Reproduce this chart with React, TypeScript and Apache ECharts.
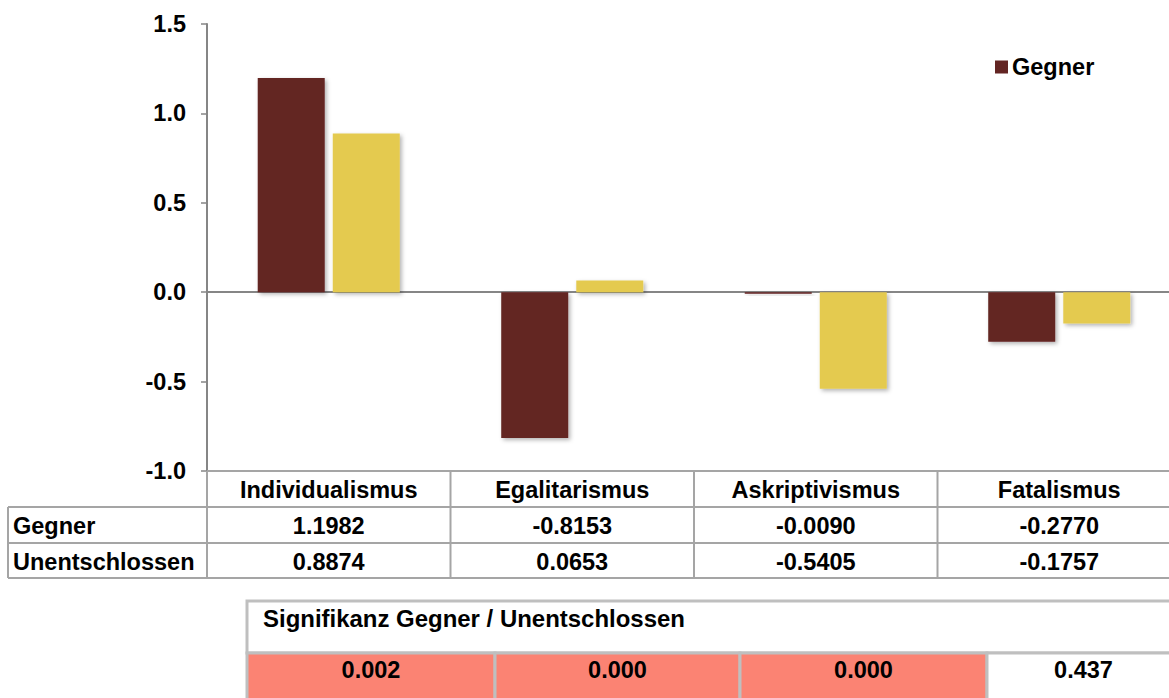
import React, { useEffect, useRef } from "react";
import * as echarts from "echarts";

const categories = ["Individualismus", "Egalitarismus", "Askriptivismus", "Fatalismus"];
const seriesNames = ["Gegner", "Unentschlossen"];
const gegner = [1.1982, -0.8153, -0.009, -0.277];
const unentschlossen = [0.8874, 0.0653, -0.5405, -0.1757];
const significanceTitle = "Signifikanz Gegner / Unentschlossen";
const significance = ["0.002", "0.000", "0.000", "0.437"];
const significant = [true, true, true, false];
const yTicks = { min: -1, max: 1.5, interval: 0.5 };

const COLORS = ["#632523", "#E4CA50"];
const FONT = "'Liberation Sans', Arial, sans-serif";
const FS = 23.5;

export default function App() {
  const ref = useRef<HTMLDivElement>(null);

  useEffect(() => {
    if (!ref.current) return;
    const chart = echarts.init(ref.current, undefined, { renderer: "svg" });

    const L = 207;
    const GW = 974;
    const CW = GW / categories.length;
    const rows = [471, 507, 543, 578];
    const leftX = 8;
    const rightX = 1200;
    const gridColor = "#A5A5A5";

    const g: any[] = [];
    const hline = (x1: number, x2: number, y: number, color = gridColor, w = 2) =>
      g.push({ type: "line", shape: { x1, y1: y, x2, y2: y }, style: { stroke: color, lineWidth: w }, z: 10 });
    const vline = (x: number, y1: number, y2: number, color = gridColor, w = 2) =>
      g.push({ type: "line", shape: { x1: x, y1, x2: x, y2 }, style: { stroke: color, lineWidth: w }, z: 10 });
    const txt = (text: string, x: number, y: number, align = "center", extra: any = {}) =>
      g.push({
        type: "text",
        x,
        y,
        ...extra,
        style: { text, fill: "#000", font: `bold ${FS}px ${FONT}`, textAlign: align, textVerticalAlign: "middle" },
        z: 11,
      });

    // data table under the chart
    hline(L, rightX, rows[0]);
    for (let r = 1; r < rows.length; r++) hline(leftX, rightX, rows[r]);
    vline(leftX, rows[1], rows[3]);
    for (let i = 0; i <= categories.length; i++) vline(L + i * CW, rows[0], rows[3]);
    categories.forEach((c, i) => txt(c, L + (i + 0.5) * CW, (rows[0] + rows[1]) / 2 + 1));
    txt(seriesNames[0], 13, (rows[1] + rows[2]) / 2 + 1, "left");
    txt(seriesNames[1], 13, (rows[2] + rows[3]) / 2 + 1, "left");
    gegner.forEach((v, i) => txt(v.toFixed(4), L + (i + 0.5) * CW, (rows[1] + rows[2]) / 2 + 1));
    unentschlossen.forEach((v, i) => txt(v.toFixed(4), L + (i + 0.5) * CW, (rows[2] + rows[3]) / 2 + 1));

    // significance table
    const sx = 247;
    const sTop = 601;
    const sMid = 653;
    const sBot = 702;
    const cellW = [248, 245, 247, 193];
    const sig = "#BFBFBF";
    g.push({ type: "rect", shape: { x: sx, y: sTop, width: 1000, height: sMid - sTop }, style: { fill: "#fff", stroke: sig, lineWidth: 3 }, z: 9 });
    txt(significanceTitle, 263, 619, "left", { scaleX: 1.02 });
    let cx = sx;
    significance.forEach((s, i) => {
      g.push({
        type: "rect",
        shape: { x: cx, y: sMid, width: cellW[i], height: sBot - sMid },
        style: { fill: significant[i] ? "#FB8373" : "#fff", stroke: sig, lineWidth: 3 },
        z: 9,
      });
      txt(s, cx + cellW[i] / 2, 670);
      cx += cellW[i];
    });

    chart.setOption({
      animation: false,
      grid: { left: L, top: 24, width: GW, height: 447, containLabel: false },
      legend: {
        data: [seriesNames[0]],
        left: 995,
        top: 55,
        padding: 0,
        icon: "rect",
        itemWidth: 13,
        itemHeight: 13,
        textStyle: { fontFamily: FONT, fontWeight: "bold", fontSize: FS, color: "#000", padding: [0, 0, 0, -1] },
      },
      xAxis: {
        type: "category",
        data: categories,
        axisLine: { onZero: true, lineStyle: { color: "#868686", width: 2 } },
        axisTick: { show: false },
        axisLabel: { show: false },
        splitLine: { show: false },
      },
      yAxis: {
        type: "value",
        min: yTicks.min,
        max: yTicks.max,
        interval: yTicks.interval,
        axisLine: { show: true, lineStyle: { color: "#868686", width: 2 } },
        axisTick: { show: true, length: 6, lineStyle: { color: "#868686", width: 1.5 } },
        axisLabel: {
          formatter: (v: number) => v.toFixed(1),
          fontFamily: FONT,
          fontWeight: "bold",
          fontSize: FS,
          color: "#000",
          margin: 21,
        },
        splitLine: { show: false },
      },
      series: [
        {
          name: seriesNames[0],
          type: "bar",
          data: gegner,
          barWidth: 67,
          barGap: "12%",
          itemStyle: { color: COLORS[0], shadowBlur: 4, shadowColor: "rgba(0,0,0,0.3)", shadowOffsetX: 2, shadowOffsetY: 2 },
        },
        {
          name: seriesNames[1],
          type: "bar",
          data: unentschlossen,
          barWidth: 67,
          barGap: "12%",
          itemStyle: { color: COLORS[1], shadowBlur: 4, shadowColor: "rgba(0,0,0,0.3)", shadowOffsetX: 2, shadowOffsetY: 2 },
        },
      ],
      graphic: { elements: g },
    });

    return () => chart.dispose();
  }, []);

  return (
    <div style={{ position: "absolute", left: 0, top: 0, width: 1169, height: 698, overflow: "hidden" }}>
      <div ref={ref} style={{ position: "absolute", left: 0, top: 0, width: 1200, height: 698 }} />
    </div>
  );
}
